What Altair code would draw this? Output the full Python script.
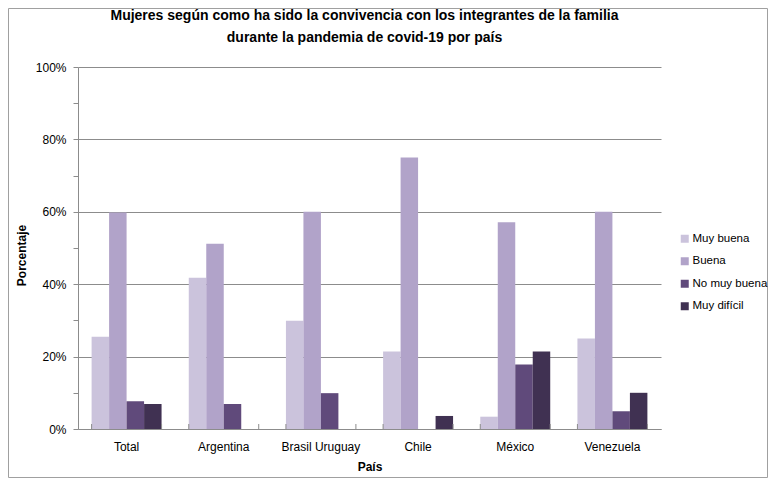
import altair as alt
import pandas as pd

paises = ["Total", "Argentina", "Brasil Uruguay", "Chile", "México", "Venezuela"]
series = ["Muy buena", "Buena", "No muy buena", "Muy difícil"]
muy_buena = [25.5, 41.8, 29.9, 21.4, 3.4, 25.0]
buena = [59.8, 51.2, 60.0, 75.0, 57.1, 60.0]
no_muy_buena = [7.7, 6.9, 9.9, 0.0, 17.8, 4.9]
muy_dificil = [6.9, 0.0, 0.0, 3.6, 21.4, 10.0]
colores = ["#cbc3dc", "#b1a3c9", "#604a7b", "#403152"]

rows = []
for s, vals in zip(series, [muy_buena, buena, no_muy_buena, muy_dificil]):
    for p, v in zip(paises, vals):
        rows.append({"pais": p, "serie": s, "valor": v / 100.0})
df = pd.DataFrame(rows)

FONT = "Liberation Sans"
x_scale = alt.Scale(domain=paises, paddingInner=0.28, paddingOuter=0.14)

bars = alt.Chart(df).mark_bar().encode(
    x=alt.X("pais:N", sort=paises, scale=x_scale,
            axis=alt.Axis(title="País", labelAngle=0, ticks=False,
                          labelPadding=12, titlePadding=9, domainColor="#8c8c8c",
                          labelFontSize=12, titleFontSize=12, titleFontWeight="bold",
                          labelColor="#000", titleColor="#000", labelFont=FONT, titleFont=FONT)),
    xOffset=alt.XOffset("serie:N", sort=series,
                        scale=alt.Scale(domain=series, paddingInner=0, paddingOuter=0)),
    y=alt.Y("valor:Q", scale=alt.Scale(domain=[0, 1], nice=False),
            axis=alt.Axis(title="Porcentaje", values=[i / 10 for i in range(11)],
                          labelExpr="round(datum.value*10) % 2 == 0 ? format(datum.value, '.0%') : ''",
                          gridOpacity=alt.condition("round(datum.value*10) % 2 == 0", alt.value(1), alt.value(0)),
                          gridColor="#8c8c8c", domainColor="#8c8c8c", tickColor="#8c8c8c",
                          tickSize=5, labelPadding=7, labelFontSize=12, titleFontSize=12,
                          titleFontWeight="bold", labelColor="#000", titleColor="#000",
                          labelFont=FONT, titleFont=FONT, titleX=-50, titleY=188)),
    color=alt.Color("serie:N", sort=series,
                    scale=alt.Scale(domain=series, range=colores),
                    legend=alt.Legend(title=None, orient="none", legendX=601, legendY=166,
                                      symbolType="square", symbolSize=64, symbolStrokeWidth=0,
                                      labelFontSize=11.5, labelFont=FONT, labelColor="#000",
                                      rowPadding=9.5, labelOffset=2, padding=0)),
)

tick_data = pd.DataFrame({"pais": paises})
ticks_start = alt.Chart(tick_data).mark_rule(color="#8c8c8c").encode(
    x=alt.X("pais:N", sort=paises, scale=x_scale, bandPosition=0),
    y=alt.value(357), y2=alt.value(362))
ticks_end = alt.Chart(tick_data).mark_rule(color="#8c8c8c").encode(
    x=alt.X("pais:N", sort=paises, scale=x_scale, bandPosition=1),
    y=alt.value(357), y2=alt.value(362))

border = alt.Chart(alt.Data(values=[{}])).mark_rect(
    fill=None, stroke="#a0a0a0", strokeWidth=1).encode(
    x=alt.value(-69.5), x2=alt.value(689.5), y=alt.value(-58.5), y2=alt.value(410.5))

chart = alt.layer(bars, ticks_start, ticks_end, border).properties(
    width=583, height=362,
    title=alt.Title(
        ["Mujeres según como ha sido la convivencia con los integrantes de la familia",
         "durante la pandemia de covid-19 por país"],
        font=FONT, fontSize=14, fontWeight="bold", color="#000",
        anchor="middle", dx=-5, offset=14, dy=51, lineHeight=22),
    autosize=alt.AutoSizeParams(type="none"),
    padding={"left": 70, "top": 59, "right": 107, "bottom": 49},
).configure_view(stroke=None)

chart.save("out.html", embed_options={"renderer": "svg", "actions": False})
